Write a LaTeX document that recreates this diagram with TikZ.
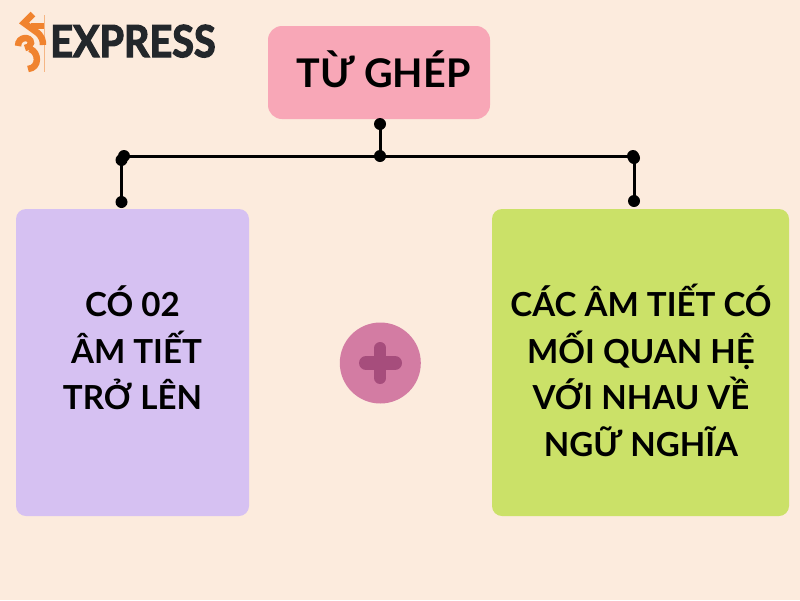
\documentclass[tikz,border=0pt]{standalone}
\usepackage{fontspec}
\setmainfont{Lato}
\newfontfamily\heavy[BoldFeatures={FakeBold=3}]{Lato}
\definecolor{bgc}{HTML}{FCEBDD}
\definecolor{pinkc}{HTML}{F8A7B7}
\definecolor{lilac}{HTML}{D6C1F2}
\definecolor{limec}{HTML}{CBE168}
\definecolor{plusbg}{HTML}{D37CA3}
\definecolor{plusfg}{HTML}{A64D7C}
\definecolor{inkc}{HTML}{23272B}
\definecolor{orangec}{HTML}{F0832F}
\tikzset{
 x=1pt,y=-1pt,
 lbl/.style={font=\fontsize{#1}{1}\selectfont\bfseries,text=black,align=center,anchor=base,inner sep=0pt},
 conn/.style={line width=3pt,black},
 dot/.style={circle,fill=black,inner sep=0pt,minimum size=12pt},
 logo/.style={line width=6.5pt,orangec}
}
\begin{document}
\begin{tikzpicture}
\useasboundingbox (0,0) rectangle (800,600);
\fill[bgc] (0,0) rectangle (800,600);
\fill[pinkc,rounded corners=14pt] (268,26) rectangle (490,119);
\fill[lilac,rounded corners=10pt] (16,209) rectangle (249,516);
\fill[limec,rounded corners=10pt] (492,209) rectangle (789,516);
\node[lbl=39.5] (root) at (383.5,87) {TỪ GHÉP};
\node[lbl=33.1] (l1) at (132.5,316) {CÓ 02};
\node[lbl=33.1] (l2) at (136.5,363) {ÂM TIẾT};
\node[lbl=33.1] (l3) at (132.5,409) {TRỞ LÊN};
\node[lbl=33.1] (r1) at (641,316) {CÁC ÂM TIẾT CÓ};
\node[lbl=33.1] (r2) at (641,363) {MỐI QUAN HỆ};
\node[lbl=33.1] (r3) at (641,409) {VỚI NHAU VỀ};
\node[lbl=33.1] (r4) at (641,456) {NGỮ NGHĨA};
% connectors
\node[dot] (a) at (380,124) {};
\node[dot] (b) at (380,156) {};
\node[dot] (c) at (124,156) {};
\node[dot] (c2) at (121.5,160) {};
\node[dot] (d) at (121.5,202) {};
\node[dot] (e) at (633,156) {};
\node[dot] (e2) at (634,158) {};
\node[dot] (f) at (634,201) {};
\draw[conn] (a.center) -- (b.center);
\draw[conn] (c.center) -- (e.center);
\draw[conn] (c2.center) -- (d.center);
\draw[conn] (e2.center) -- (f.center);
% plus
\node[circle,fill=plusbg,minimum size=81pt,inner sep=0pt] (p) at (380.3,363) {};
\draw[plusfg,line width=14pt,line cap=round] (366,363) -- (395,363);
\draw[plusfg,line width=12pt,line cap=round] (380.3,348) -- (380.3,378);
% logo
\node[anchor=base west,inner sep=0pt,font=\fontsize{44}{1}\selectfont\heavy\bfseries,text=inkc,xscale=0.9] (brand) at (50,57) {EXPRESS};
\draw[logo] (33,14) -- (24,23) -- (35,31) .. controls (43,36) and (43,42) .. (43,45);
\draw[logo] (44,26) -- (31,26);
\draw[logo] (18,46) .. controls (18,36) and (31,36) .. (31,43) .. controls (31,46) and (28,48) .. (25,48);
\draw[logo] (30,49) .. controls (39,52) and (40,68) .. (28,69);
\draw[orangec,line width=0.6pt,opacity=.5] (44.5,15) -- (44.5,72);
\end{tikzpicture}
\end{document}
